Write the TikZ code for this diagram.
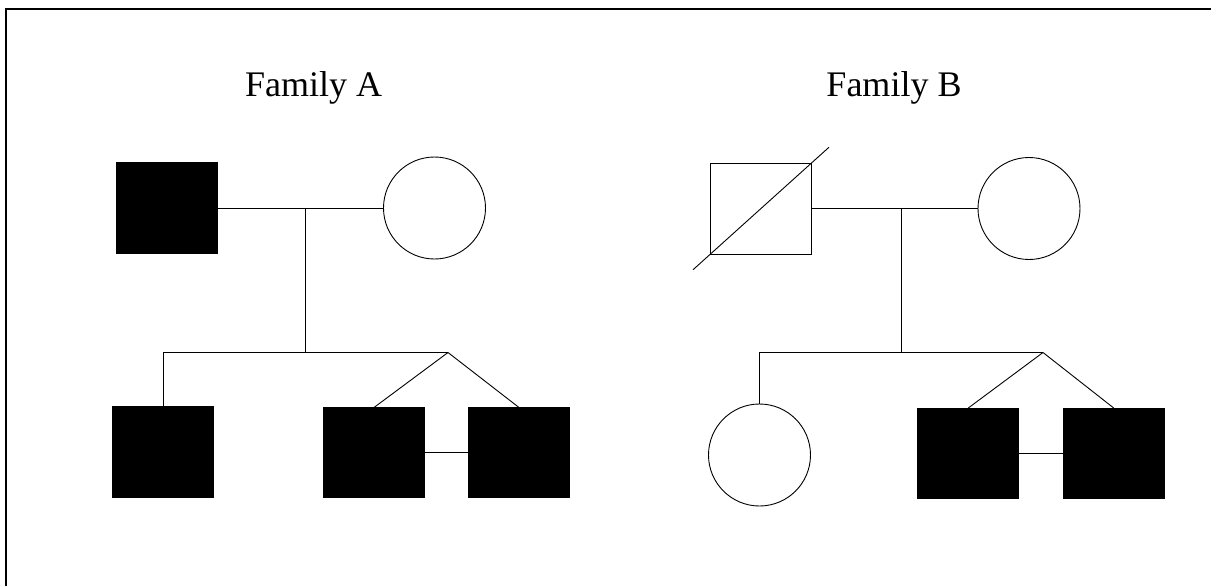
\documentclass[tikz,border=0pt]{standalone}
\usepackage{fontspec}
\setmainfont{Liberation Serif}
\usetikzlibrary{calc}
\begin{document}
\begin{tikzpicture}[x=1pt,y=-1pt,
  line width=0.9pt,
  aff/.style={draw=black, fill=black, minimum width=101pt, minimum height=91pt, inner sep=0pt, outer sep=0pt},
  unaff/.style={draw=black, fill=white, minimum width=101pt, minimum height=91pt, inner sep=0pt, outer sep=0pt},
  fem/.style={draw=black, fill=white, circle, minimum size=102pt, inner sep=0pt, outer sep=0pt},
  lbl/.style={font=\fontsize{36}{40}\selectfont, anchor=base, inner sep=0pt},
  frame/.style={line width=1.5pt}]
\useasboundingbox (0,0) rectangle (1211,586);
% frame
\coordinate (f1) at (6,586);
\coordinate (f2) at (6,9);
\coordinate (f3) at (1211,9);
\draw[frame] (f1) -- (f2) -- (f3);
% titles
\node[lbl] (la) at (313.7,96.7) {Family A};
\node[lbl] (lb) at (894,96.7) {Family B};
% Family A
\node[aff] (fa) at (167,208) {};
\node[fem] (ma) at (434.5,208) {};
\draw (fa.east) -- (ma.west);
\coordinate (mA) at (305,208);
\coordinate (sA) at (305,352.5);
\draw (mA) -- (sA);
\node[aff] (a1) at (163.3,451.5) {};
\node[aff, minimum height=90pt] (a2) at (374,452.5) {};
\node[aff, minimum height=90pt] (a3) at (519,452.5) {};
\coordinate (tA) at (448,352.5);
\draw (a1.north) |- (tA);
\draw (a2.north) -- (tA) -- (a3.north);
\draw (a2.east) -- (a3.west);
% Family B
\node[unaff] (fb) at (761,208.5) {};
\draw ($(fb.south west)!-0.173!(fb.north east)$) -- ($(fb.north east)!-0.173!(fb.south west)$);
\node[fem] (mb) at (1029,208.5) {};
\draw (fb.east) -- (mb.west);
\coordinate (mB) at (901,208.5);
\coordinate (sB) at (901,352.5);
\draw (mB) -- (sB);
\node[fem] (b1) at (759.5,455) {};
\node[aff, minimum height=90pt] (b2) at (968.3,453) {};
\node[aff, minimum height=90pt] (b3) at (1113.7,453) {};
\coordinate (tB) at (1043,352.5);
\draw (b1.north) |- (tB);
\draw (b2.north) -- (tB) -- (b3.north);
\draw (b2.east) -- (b3.west);
\end{tikzpicture}
\end{document}
